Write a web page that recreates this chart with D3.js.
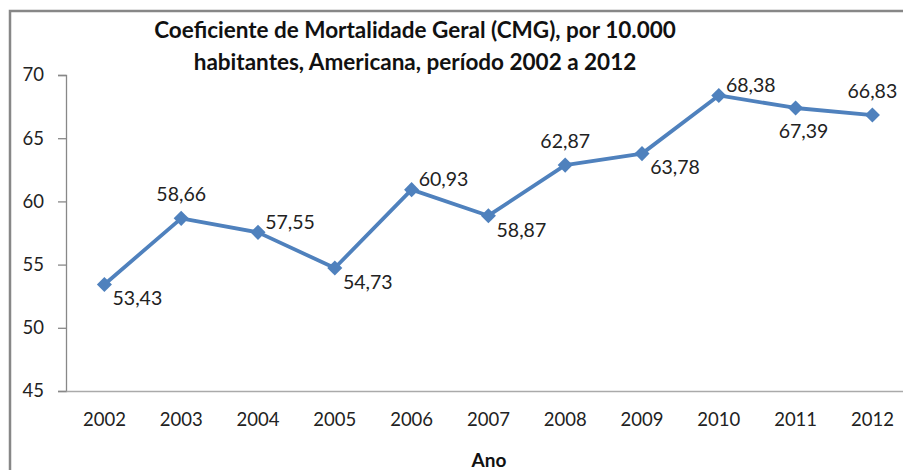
<!DOCTYPE html>
<html>
<head>
<meta charset="utf-8">
<script src="https://cdn.jsdelivr.net/npm/d3@7"></script>
<style>
  body { margin: 0; background: #fff; }
  svg { display: block; font-family: Lato, "Open Sans", sans-serif; }
</style>
</head>
<body>
<svg id="chart" width="903" height="470"></svg>
<script>
const years = ["2002", "2003", "2004", "2005", "2006", "2007", "2008", "2009", "2010", "2011", "2012"]
const cmg = [53.43, 58.66, 57.55, 54.73, 60.93, 58.87, 62.87, 63.78, 68.38, 67.39, 66.83]
const yTicks = [45, 50, 55, 60, 65, 70]
const titleLines = ["Coeficiente de Mortalidade Geral (CMG), por 10.000", "habitantes, Americana, período 2002 a 2012"]
const xTitle = "Ano"
// where each value label sits relative to its marker
const labelSide = ["br", "t", "tr", "br", "tr", "br", "t", "br", "tr", "b", "t"]

const svg = d3.select("#chart")
const margin = { top: 75, left: 66 }
const plotH = 316
const bandW = 76.8

// outer frame, cut off on the right and bottom like the original
svg.append("rect")
  .attr("x", 10).attr("y", 11)
  .attr("width", 1000).attr("height", 600)
  .attr("fill", "none")
  .attr("stroke", "#878787")
  .attr("stroke-width", 2.5)

svg.append("g")
  .selectAll("text")
  .data(titleLines)
  .enter().append("text")
    .attr("x", 415)
    .attr("y", (d, i) => 38 + i * 32)
    .attr("text-anchor", "middle")
    .attr("font-size", 22.5)
    .attr("font-weight", "bold")
    .attr("fill", "#111")
    .text(d => d)

const x = d3.scaleBand().domain(years).range([margin.left, margin.left + bandW * years.length])
const y = d3.scaleLinear().domain([45, 70]).range([margin.top + plotH, margin.top])

const yAxis = svg.append("g")
  .attr("transform", "translate(" + margin.left + ",0)")
  .call(d3.axisLeft(y).tickValues(yTicks).tickSize(8).tickPadding(14).tickFormat(d3.format("d")))
yAxis.select(".domain").attr("stroke", "#888").attr("stroke-width", 1.3)
yAxis.selectAll(".tick line").attr("stroke", "#888").attr("stroke-width", 1.3)
yAxis.selectAll("text").attr("font-size", 18.5).attr("fill", "#222").attr("font-family", "Lato, sans-serif")

const xAxis = svg.append("g")
  .attr("transform", "translate(0," + (margin.top + plotH) + ")")
  .call(d3.axisBottom(x).tickSize(0).tickPadding(22))
xAxis.select(".domain").attr("stroke", "#aaa").attr("stroke-width", 1.3)
xAxis.selectAll("text").attr("font-size", 18.5).attr("fill", "#222").attr("font-family", "Lato, sans-serif")

svg.append("text")
  .attr("x", 489).attr("y", 467)
  .attr("text-anchor", "middle")
  .attr("font-size", 19)
  .attr("font-weight", "bold")
  .attr("fill", "#111")
  .text(xTitle)

const cx = (d, i) => x(years[i]) + x.bandwidth() / 2

svg.append("path")
  .datum(cmg)
  .attr("fill", "none")
  .attr("stroke", "#4F81BD")
  .attr("stroke-width", 3.8)
  .attr("stroke-linejoin", "round")
  .attr("d", d3.line().x(cx).y(d => y(d)))

svg.append("g")
  .selectAll("path")
  .data(cmg)
  .enter().append("path")
    .attr("transform", (d, i) => "translate(" + cx(d, i) + "," + y(d) + ")")
    .attr("d", d3.symbol().type(d3.symbolDiamond2).size(145))
    .attr("fill", "#4F81BD")

const offsets = {
  t: [0, -24],
  b: [8, 23],
  tr: [32, -10],
  br: [33, 14]
}
const fmt = v => v.toFixed(2).replace(".", ",")

svg.append("g")
  .selectAll("text")
  .data(cmg)
  .enter().append("text")
    .attr("x", (d, i) => cx(d, i) + offsets[labelSide[i]][0])
    .attr("y", (d, i) => y(d) + offsets[labelSide[i]][1])
    .attr("dy", "0.35em")
    .attr("text-anchor", "middle")
    .attr("font-size", 19.5)
    .attr("fill", "#222")
    .text(d => fmt(d))
</script>
</body>
</html>
